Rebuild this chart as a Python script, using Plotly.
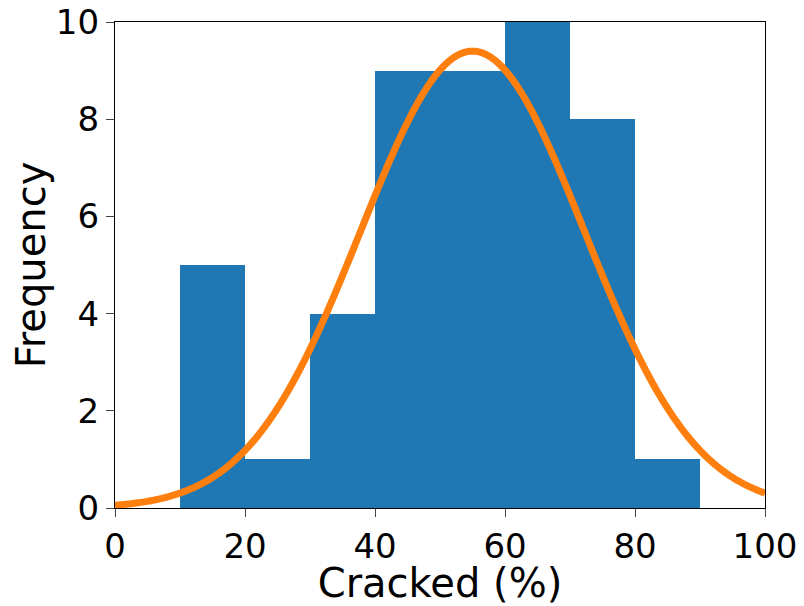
import numpy as np
import plotly.graph_objects as go

bin_left = [10, 20, 30, 40, 50, 60, 70, 80]
counts = [5, 1, 4, 9, 9, 10, 8, 1]
bin_width = 10
fit_mean = 55.0
fit_sd = 17.2
fit_peak = 9.4

x_tick_vals = [0, 20, 40, 60, 80, 100]
y_tick_vals = [0, 2, 4, 6, 8, 10]

centers = [b + bin_width / 2 for b in bin_left]
xc = np.linspace(0, 100, 401)
yc = fit_peak * np.exp(-0.5 * ((xc - fit_mean) / fit_sd) ** 2)

fig = go.Figure()
fig.add_trace(go.Bar(x=centers, y=counts, width=bin_width, marker=dict(color="#1f77b4", line=dict(width=0))))
fig.add_trace(go.Scatter(x=xc, y=yc, mode="lines", line=dict(color="#ff7f0e", width=7, simplify=False)))

font = "DejaVu Sans"
fig.update_layout(
    width=796, height=598,
    margin=dict(l=107, r=39, t=14, b=98),
    plot_bgcolor="white", paper_bgcolor="white",
    showlegend=False, bargap=0,
    font=dict(family=font, size=34, color="black"),
    xaxis=dict(range=[0, 100], tickvals=x_tick_vals, ticks="outside", ticklen=8, tickwidth=1.3,
               showline=True, linecolor="black", linewidth=1.3, mirror=True, showgrid=False, zeroline=False,
               automargin=False, ticklabeloverflow="allow",
               title=dict(text="Cracked (%)", font=dict(size=40), standoff=2)),
    yaxis=dict(range=[0, 10], tickvals=y_tick_vals, ticks="outside", ticklen=8, tickwidth=1.3,
               showline=True, linecolor="black", linewidth=1.3, mirror=True, showgrid=False, zeroline=False,
               automargin=False, ticklabeloverflow="allow",
               title=dict(text="Frequency", font=dict(size=40), standoff=22)),
)
fig.write_html("out.html")
